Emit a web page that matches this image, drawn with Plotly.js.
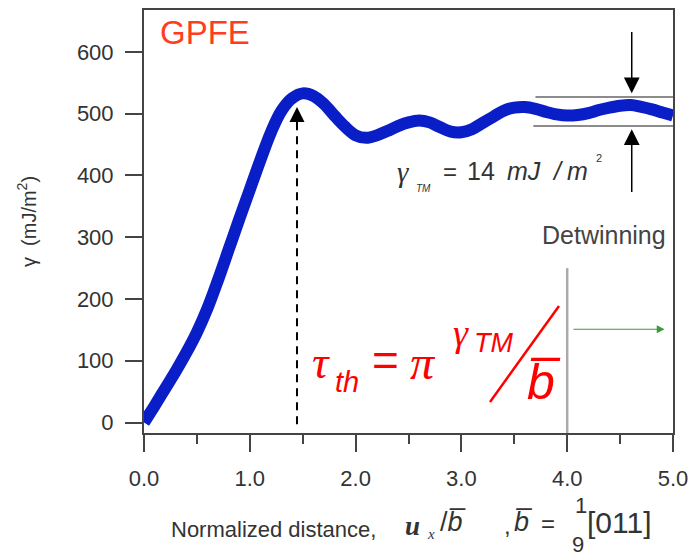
<!DOCTYPE html>
<html>
<head>
<meta charset="utf-8">
<script src="https://cdn.plot.ly/plotly-3.0.1.min.js"></script>
<style>html,body{margin:0;padding:0;background:#fff;}#chart{width:696px;height:557px;}</style>
</head>
<body>
<div id="chart"></div>
<script>
// ---- data ----
const distance = [0.0,0.1,0.2,0.3,0.4,0.5,0.6,0.7,0.8,0.9,1.0,1.1,1.2,1.3,1.4,1.5,1.6,1.7,1.8,1.9,2.0,2.1,2.2,2.3,2.4,2.5,2.6,2.7,2.8,2.9,3.0,3.1,3.2,3.3,3.4,3.5,3.6,3.7,3.8,3.9,4.0,4.1,4.2,4.3,4.4,4.5,4.6,4.7,4.8,4.9,5.0];
const gpfe = [0,27,55,83,113,146,185,231,280,329,377,425,470,505,525,533,529,516,497,479,465,461,465,472,480,486,489,486,478,471,470,475,485,495,505,510,511,508,503,499,497,498,501,506,510,513,514,511,507,502,497];
const xTickVals = [0,1,2,3,4,5];
const xTickText = ['0.0','1.0','2.0','3.0','4.0','5.0'];
const yTickVals = [0,100,200,300,400,500,600];
const peakX = 1.446, peakY = 511;          // dashed arrow to the first maximum
const bandTop = 527, bandBottom = 480;     // gamma_TM band lines
const bandStart = 3.70;
const detwinX = 4.0, detwinTop = 250;      // detwinning marker line
const greenArrow = {x0: 4.045, x1: 4.92, y: 151};
const downArrow = {x: 4.61, tail: 635, tip: 533};
const upArrow = {x: 4.61, tail: 371, tip: 475};

// ---- geometry helpers (pixel -> paper) ----
const L = 144, R = 673, T = 10, B = 433;
const px = v => (v - L) / (R - L);
const py = v => (B - v) / (B - T);

const SANS = 'Arial, "Liberation Sans", sans-serif';
const SERIF = '"Liberation Serif", "Times New Roman", serif';
const GREY = '#333';
const RED = '#ff0000';

const trace = {
  x: distance, y: gpfe, type: 'scatter', mode: 'lines',
  line: {color: '#0a1ec8', width: 12, shape: 'spline', smoothing: 1},
  hoverinfo: 'skip', showlegend: false
};

function txt(text, x, y, size, color, family, anchor) {
  return {
    text: text, xref: 'paper', yref: 'paper', x: px(x), y: py(y),
    xanchor: anchor || 'left', yanchor: 'middle', showarrow: false,
    font: {family: family || SANS, size: size, color: color}
  };
}

const annotations = [
  txt('GPFE', 158, 33, 33, '#ff3c1e'),
  // gamma_TM = 14 mJ / m^2
  txt('<i>γ</i>', 395, 172, 29, GREY, SERIF),
  txt('<i>TM</i>', 414, 189, 10, GREY),
  txt('=', 441, 171, 24, GREY),
  txt('14', 465, 171, 25, GREY),
  txt('<i>mJ</i>', 505, 171, 25, GREY),
  txt('<i>/</i>', 550, 171, 25, GREY),
  txt('<i>m</i>', 565, 171, 25, GREY),
  txt('2', 594, 158, 11, GREY),
  txt('Detwinning', 540, 235, 25, '#444'),
  // big formula
  txt('<i>τ</i>', 310, 362, 46, RED, SERIF),
  txt('<i>th</i>', 333, 382, 29, RED),
  txt('=', 370, 360, 46, RED),
  txt('<i>π</i>', 408, 362, 48, RED, SERIF),
  txt('<i>γ</i>', 451, 333, 38, RED, SERIF),
  txt('<i>TM</i>', 472, 343, 27, RED),
  txt('<i>b\u0305</i>', 525, 382, 50, RED),
  // x-axis label pieces
  txt('Normalized distance,', 169, 529, 22, GREY),
  txt('<b><i>u</i></b>', 403, 526, 27, GREY, SERIF),
  txt('<i>x</i>', 425, 534, 15, GREY, SERIF),
  txt('/<i>b\u0305</i>', 438, 522, 27, GREY),
  txt(',', 502, 525, 24, GREY),
  txt('<i>b\u0305</i>', 512, 522, 27, GREY),
  txt('=', 539, 523, 24, GREY),
  txt('1', 581, 506, 22, GREY, SANS, 'center'),
  txt('9', 578, 544, 22, GREY, SANS, 'center'),
  txt('[011]', 585, 522, 30, GREY),
  // arrows
  {x: peakX, y: peakY, ax: peakX, ay: peakY - 30, xref: 'x', yref: 'y', axref: 'x', ayref: 'y',
   text: '', showarrow: true, arrowhead: 2, arrowsize: 1.5, arrowwidth: 2, arrowcolor: '#000'},
  {x: downArrow.x, y: downArrow.tip, ax: downArrow.x, ay: downArrow.tail, xref: 'x', yref: 'y', axref: 'x', ayref: 'y',
   text: '', showarrow: true, arrowhead: 2, arrowsize: 2.1, arrowwidth: 1.5, arrowcolor: '#000'},
  {x: upArrow.x, y: upArrow.tip, ax: upArrow.x, ay: upArrow.tail, xref: 'x', yref: 'y', axref: 'x', ayref: 'y',
   text: '', showarrow: true, arrowhead: 2, arrowsize: 2.1, arrowwidth: 1.5, arrowcolor: '#000'},
  {x: greenArrow.x1, y: greenArrow.y, ax: greenArrow.x0, ay: greenArrow.y, xref: 'x', yref: 'y', axref: 'x', ayref: 'y',
   text: '', showarrow: true, arrowhead: 2, arrowsize: 1.3, arrowwidth: 1.2, arrowcolor: '#3a9a3a'}
];

const shapes = [
  {type: 'line', xref: 'x', yref: 'y', x0: peakX, x1: peakX, y0: -3, y1: peakY - 26,
   line: {color: '#000', width: 2, dash: '8px,6px'}},
  {type: 'line', xref: 'x', yref: 'y', x0: bandStart, x1: 5, y0: bandTop, y1: bandTop, line: {color: '#666', width: 1.5}},
  {type: 'line', xref: 'x', yref: 'y', x0: bandStart - 0.02, x1: 5, y0: bandBottom, y1: bandBottom, line: {color: '#666', width: 1.5}},
  {type: 'line', xref: 'x', yref: 'y', x0: detwinX, x1: detwinX, y0: -17, y1: detwinTop, line: {color: '#aaaaaa', width: 2.5}},
  // fraction slash of the formula
  {type: 'line', xref: 'paper', yref: 'paper', x0: px(490), y0: py(402), x1: px(559), y1: py(306),
   line: {color: RED, width: 2.5}}
];

const layout = {
  width: 696, height: 557,
  margin: {l: L, r: 696 - R, t: T, b: 557 - B, pad: 0},
  paper_bgcolor: '#fff', plot_bgcolor: '#fff',
  showlegend: false,
  font: {family: SANS, color: GREY},
  xaxis: {
    range: [0, 5], tickvals: xTickVals, ticktext: xTickText,
    ticks: 'outside', ticklen: 17, tickwidth: 2, tickcolor: '#444',
    showline: true, linecolor: '#444', linewidth: 2, mirror: true,
    showgrid: false, zeroline: false, ticklabelstandoff: 8,
    tickfont: {family: SANS, size: 22, color: GREY},
    minor: {dtick: 0.5, tick0: 0, ticks: 'outside', ticklen: 9, tickwidth: 2, tickcolor: '#444', showgrid: false}
  },
  yaxis: {
    range: [-17, 668], tickvals: yTickVals,
    ticks: 'outside', ticklen: 17, tickwidth: 2, tickcolor: '#444',
    showline: true, linecolor: '#444', linewidth: 2, mirror: true,
    showgrid: false, zeroline: false, ticklabelstandoff: 7,
    tickfont: {family: SANS, size: 22, color: GREY},
    title: {text: 'γ  (mJ/m<sup>2</sup>)', font: {family: SANS, size: 20, color: GREY}, standoff: 35}
  },
  annotations: annotations,
  shapes: shapes
};

Plotly.newPlot('chart', [trace], layout, {displayModeBar: false, staticPlot: true});
</script>
</body>
</html>
